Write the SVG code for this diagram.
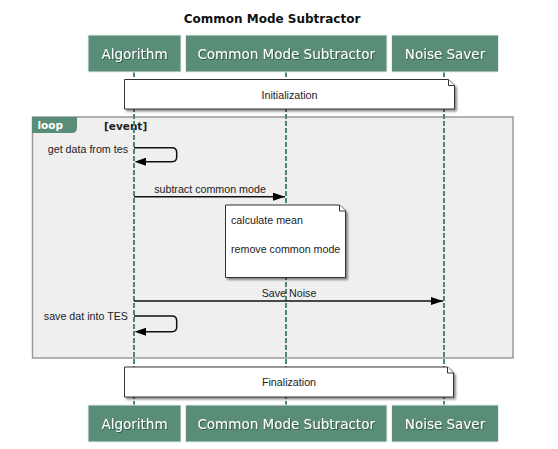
<svg xmlns="http://www.w3.org/2000/svg" width="558" height="449" viewBox="0 0 558 449">
<defs>
<style>
.title{font-family:"DejaVu Sans",Verdana,sans-serif;font-weight:bold;font-size:12px;fill:#111;text-anchor:middle}
.hbox{fill:#5a8d78;stroke:#e6efe9;stroke-width:1}
.htxt{font-family:"DejaVu Sans",Verdana,sans-serif;font-size:13.5px;fill:#fff;text-anchor:middle;filter:url(#tsh)}
.life{stroke:#4a8a72;stroke-width:2;stroke-dasharray:5 2;fill:none}
.note{fill:#fff;stroke:#333;stroke-width:1;filter:url(#nsh)}
.fold{fill:#fff;stroke:#333;stroke-width:1}
.lbl{font-family:"Liberation Sans",Arial,sans-serif;font-size:10.7px;fill:#222}
.msg{stroke:#111;stroke-width:1.5;fill:none}
.head{fill:#000}
.frame{fill:#efefef;stroke:#9a9a9a;stroke-width:1.5}
</style>
<filter id="tsh" x="-10%" y="-20%" width="120%" height="150%">
<feDropShadow dx="0.8" dy="0.8" stdDeviation="0.6" flood-color="#1d3d30" flood-opacity="0.8"/>
</filter>
<filter id="nsh" x="-5%" y="-10%" width="115%" height="130%">
<feDropShadow dx="2" dy="2" stdDeviation="1.2" flood-color="#000" flood-opacity="0.45"/>
</filter>
<marker id="arr" viewBox="0 0 12 8" refX="12" refY="4" markerWidth="12" markerHeight="8" markerUnits="userSpaceOnUse" orient="auto">
<path d="M0,0 L12,4 L0,8 Z" fill="#000"/>
</marker>
</defs>
<rect width="558" height="449" fill="#fff"/>
<text class="title" x="272" y="22.5">Common Mode Subtractor</text>

<g id="loop-frame">
<rect class="frame" x="32.5" y="117" width="480.5" height="241"/>
<path d="M32,117 H77 V127.5 Q77,133 71.5,133 H32 Z" fill="#5a8d78"/>
<text x="37.5" y="129" font-family="'DejaVu Sans',Verdana,sans-serif" font-size="10.5" font-weight="bold" fill="#fff">loop</text>
<text x="104" y="129.5" font-family="'DejaVu Sans',Verdana,sans-serif" font-size="10.5" font-weight="bold" fill="#222">[event]</text>
</g>

<g id="lifelines">
<line class="life" x1="134" y1="72" x2="134" y2="405"/>
<line class="life" x1="286" y1="72" x2="286" y2="405"/>
<line class="life" x1="444" y1="72" x2="444" y2="405"/>
</g>

<g id="header-algorithm">
<rect class="hbox" x="88" y="35" width="93" height="37"/>
<text class="htxt" x="134.5" y="58.5">Algorithm</text>
</g>
<g id="header-cms">
<rect class="hbox" x="185.5" y="35" width="201.5" height="37"/>
<text class="htxt" x="286.2" y="58.5">Common Mode Subtractor</text>
</g>
<g id="header-noise">
<rect class="hbox" x="391.5" y="35" width="107" height="37"/>
<text class="htxt" x="445" y="58.5">Noise Saver</text>
</g>

<g id="note-init">
<path class="note" d="M124.5,79.5 H448.5 L454.5,85.5 V109 H124.5 Z"/>
<path class="fold" d="M448.5,79.5 V85.5 H454.5"/>
<text class="lbl" x="289.5" y="98.5" text-anchor="middle">Initialization</text>
</g>

<g id="connectors">
<path class="msg" d="M134,147.7 H172 Q176.7,147.7 176.7,152.5 V157 Q176.7,161.7 172,161.7 H146"/>
<path class="head" d="M134.5,161.7 L146,157.7 L146,165.7 Z"/>
<text class="lbl" x="128" y="152.7" text-anchor="end">get data from tes</text>

<line class="msg" x1="134" y1="196.7" x2="285" y2="196.7" marker-end="url(#arr)"/>
<text class="lbl" x="210" y="192.7" text-anchor="middle">subtract common mode</text>

<line class="msg" x1="134" y1="301" x2="443" y2="301" marker-end="url(#arr)"/>
<text class="lbl" x="289" y="297.3" text-anchor="middle">Save Noise</text>

<path class="msg" d="M134,316 H172 Q176.7,316 176.7,320.8 V327 Q176.7,331.7 172,331.7 H146"/>
<path class="head" d="M134.5,331.7 L146,327.7 L146,335.7 Z"/>
<text class="lbl" x="128" y="320" text-anchor="end">save dat into TES</text>
</g>

<g id="note-calc">
<path class="note" d="M225.5,205 H339.5 L345.5,211 V277.5 H225.5 Z"/>
<path class="fold" d="M339.5,205 V211 H345.5"/>
<text class="lbl" x="231" y="223.7">calculate mean</text>
<text class="lbl" x="231" y="252.7">remove common mode</text>
</g>

<g id="note-final">
<path class="note" d="M124.5,367 H447.5 L453.5,373 V397 H124.5 Z"/>
<path class="fold" d="M447.5,367 V373 H453.5"/>
<text class="lbl" x="289" y="386" text-anchor="middle">Finalization</text>
</g>

<g id="footer-algorithm">
<rect class="hbox" x="88" y="405" width="93" height="37"/>
<text class="htxt" x="134.5" y="428.5">Algorithm</text>
</g>
<g id="footer-cms">
<rect class="hbox" x="185.5" y="405" width="201.5" height="37"/>
<text class="htxt" x="286.2" y="428.5">Common Mode Subtractor</text>
</g>
<g id="footer-noise">
<rect class="hbox" x="391.5" y="405" width="107" height="37"/>
<text class="htxt" x="445" y="428.5">Noise Saver</text>
</g>
</svg>
